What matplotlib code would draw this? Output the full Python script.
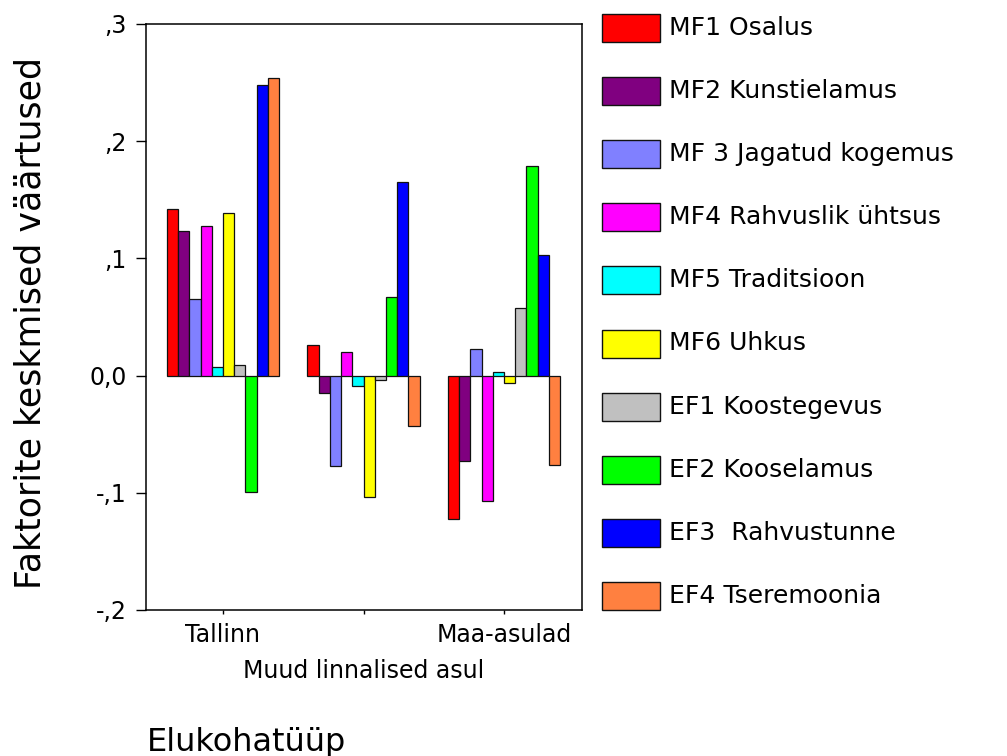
import numpy as np
import matplotlib.pyplot as plt
from matplotlib.patches import Rectangle

# categories and factor series
groups = ['Tallinn', 'Muud linnalised asul', 'Maa-asulad']
series = ['MF1 Osalus', 'MF2 Kunstielamus', 'MF 3 Jagatud kogemus',
          'MF4 Rahvuslik ühtsus', 'MF5 Traditsioon', 'MF6 Uhkus',
          'EF1 Koostegevus', 'EF2 Kooselamus', 'EF3  Rahvustunne',
          'EF4 Tseremoonia']
colors = ['#ff0000', '#800080', '#8080ff', '#ff00ff', '#00ffff',
          '#ffff00', '#c0c0c0', '#00ff00', '#0000ff', '#ff8040']

# mean values per series: [Tallinn, Muud linnalised asul, Maa-asulad]
mf1 = [0.142, 0.026, -0.122]
mf2 = [0.123, -0.015, -0.073]
mf3 = [0.065, -0.077, 0.023]
mf4 = [0.128, 0.020, -0.107]
mf5 = [0.007, -0.009, 0.003]
mf6 = [0.139, -0.104, -0.006]
ef1 = [0.009, -0.004, 0.058]
ef2 = [-0.099, 0.067, 0.179]
ef3 = [0.248, 0.165, 0.103]
ef4 = [0.254, -0.043, -0.076]
values = [mf1, mf2, mf3, mf4, mf5, mf6, ef1, ef2, ef3, ef4]

yticks = [-0.2, -0.1, 0.0, 0.1, 0.2, 0.3]
yticklabels = ['-,2', '-,1', '0,0', ',1', ',2', ',3']

plt.rcParams['font.family'] = ['DejaVu Sans']

fig = plt.figure(figsize=(10.07, 7.56), dpi=100)
W, H = 1007, 756
ax = fig.add_axes([146 / W, 1 - 610 / H, (582 - 146) / W, (610 - 24) / H])

x = np.arange(len(groups))
bw = 0.08
for i, (vals, col) in enumerate(zip(values, colors)):
    ax.bar(x + (i - 4.5) * bw, vals, width=bw, color=col,
           edgecolor='#111111', linewidth=0.9, zorder=2)

ax.set_xlim(-0.548, 2.555)
ax.set_ylim(-0.2, 0.3)
ax.set_yticks(yticks)
ax.set_yticklabels(yticklabels, fontsize=17)
ax.set_xticks(x)
ax.set_xticklabels(groups, fontsize=17)
ax.tick_params(axis='y', direction='out', length=7, width=1, pad=7)
ax.tick_params(axis='x', direction='out', length=3, width=1, pad=6)
for sp in ax.spines.values():
    sp.set_linewidth(1.1)

# staggered middle category label (SPSS style)
ax.xaxis.get_major_ticks()[1].label1.set_y(-0.062)

fig.text(31 / W, 1 - 323 / H, 'Faktorite keskmised väärtused', rotation=90,
         ha='center', va='center', fontsize=25)
fig.text(147 / W, 1 - 742 / H, 'Elukohatüüp', ha='left', va='center',
         fontsize=23)

# legend drawn at the right side
for i, (lab, col) in enumerate(zip(series, colors)):
    yc = 28 + i * 63.1
    fig.add_artist(Rectangle((602 / W, 1 - (yc + 14) / H), 58 / W, 28 / H,
                             transform=fig.transFigure, facecolor=col,
                             edgecolor='#111111', linewidth=1.0))
    fig.text(669 / W, 1 - yc / H, lab, ha='left', va='center', fontsize=18)

fig.savefig('out.png', dpi=100)
